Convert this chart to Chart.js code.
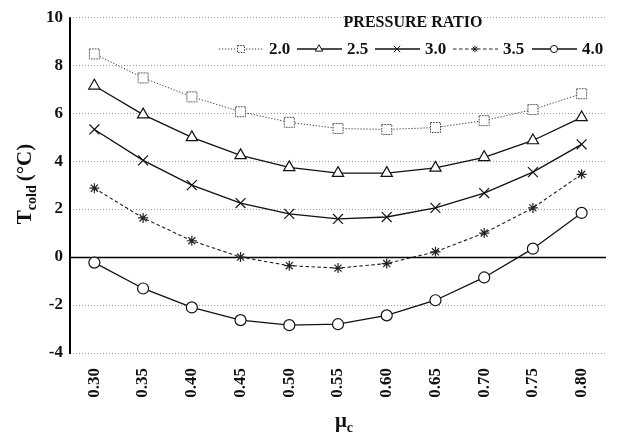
<!DOCTYPE html>
<html><head><meta charset="utf-8">
<script src="https://cdn.jsdelivr.net/npm/chart.js@4.4.1/dist/chart.umd.min.js"></script>
<style>html,body{margin:0;padding:0;background:#fff}#wrap{width:622px;height:436px}</style>
</head><body><div id="wrap"><canvas id="c" width="622" height="436"></canvas></div>
<script>
const categories = ['0.30','0.35','0.40','0.45','0.50','0.55','0.60','0.65','0.70','0.75','0.80'];
const seriesLabels = ['2.0','2.5','3.0','3.5','4.0'];
const pr20 = [8.47, 7.47, 6.68, 6.06, 5.62, 5.36, 5.32, 5.40, 5.69, 6.15, 6.81];
const pr25 = [7.14, 5.94, 4.99, 4.24, 3.74, 3.50, 3.50, 3.72, 4.16, 4.86, 5.82];
const pr30 = [5.32, 4.03, 3.00, 2.25, 1.80, 1.59, 1.67, 2.05, 2.67, 3.54, 4.70];
const pr35 = [2.87, 1.63, 0.68, 0.00, -0.36, -0.46, -0.27, 0.22, 1.00, 2.05, 3.45];
const pr40 = [-0.23, -1.31, -2.10, -2.63, -2.84, -2.80, -2.43, -1.80, -0.85, 0.35, 1.84];
const yTicks = [10, 8, 6, 4, 2, 0, -2, -4];

const FONT = "'Liberation Serif', 'Times New Roman', serif";

function dottedSquare(size) {
  const c = document.createElement('canvas');
  c.width = size + 2; c.height = size + 2;
  const g = c.getContext('2d');
  g.fillStyle = '#fff'; g.fillRect(1, 1, size, size);
  g.strokeStyle = '#333'; g.lineWidth = 1; g.setLineDash([1.5, 1.2]);
  g.strokeRect(1.5, 1.5, size - 1, size - 1);
  return c;
}
const sqBig = dottedSquare(11);
const sqSmall = dottedSquare(8);

const styles = [
  {data: pr20, pointStyle: sqBig, legendStyle: sqSmall, radius: 6, dash: [1.2, 1.8], width: 1, color: '#333'},
  {data: pr25, pointStyle: 'triangle', radius: 6.5, dash: [], width: 1.3, color: '#111'},
  {data: pr30, pointStyle: 'crossRot', radius: 7, dash: [], width: 1.3, color: '#111'},
  {data: pr35, pointStyle: 'star', radius: 5, dash: [3.5, 2.5], width: 1.1, color: '#222'},
  {data: pr40, pointStyle: 'circle', radius: 5.5, dash: [], width: 1.3, color: '#111'}
];

const datasets = styles.map((s, i) => ({
  label: seriesLabels[i],
  data: s.data,
  borderColor: s.color,
  borderWidth: s.width,
  borderDash: s.dash,
  pointStyle: s.pointStyle,
  pointRadius: s.radius,
  pointBorderWidth: 1.2,
  pointBorderColor: s.color,
  pointBackgroundColor: '#fff',
  tension: 0,
  fill: false
}));

const customPlugin = {
  id: 'custom',
  beforeDatasetsDraw(chart) {
    const {ctx, chartArea: a, scales: {y}} = chart;
    ctx.save();
    const y0 = Math.round(y.getPixelForValue(0)) + 0.5;
    ctx.strokeStyle = '#000'; ctx.lineWidth = 1.5; ctx.setLineDash([]);
    ctx.beginPath(); ctx.moveTo(a.left, y0); ctx.lineTo(a.right, y0); ctx.stroke();
    ctx.lineWidth = 2;
    ctx.beginPath(); ctx.moveTo(a.left, a.top); ctx.lineTo(a.left, a.bottom + 1); ctx.stroke();
    ctx.restore();
  },
  afterDraw(chart) {
    const {ctx} = chart;
    const big = 'bold 21px ' + FONT, small = 'bold 14px ' + FONT;
    ctx.save();
    ctx.fillStyle = '#111';
    ctx.translate(24, 184);
    ctx.rotate(-Math.PI / 2);
    ctx.font = big; const wT = ctx.measureText('T').width;
    ctx.font = small; const wC = ctx.measureText('cold').width;
    ctx.font = big; const wP = ctx.measureText('(°C)').width;
    const tot = wT + wC + 4 + wP;
    let x = -tot / 2;
    ctx.textBaseline = 'alphabetic'; ctx.textAlign = 'left';
    ctx.font = big; ctx.fillText('T', x, 7); x += wT;
    ctx.font = small; ctx.fillText('cold', x, 12); x += wC + 4;
    ctx.font = big; ctx.fillText('(°C)', x, 7);
    ctx.restore();

    ctx.save();
    ctx.fillStyle = '#111';
    ctx.font = big; const wM = ctx.measureText('μ').width;
    ctx.font = small; const wc = ctx.measureText('c').width;
    let xx = 344 - (wM + wc) / 2;
    ctx.font = big; ctx.fillText('μ', xx, 427);
    ctx.font = small; ctx.fillText('c', xx + wM, 432);
    ctx.restore();

    // Legend
    ctx.save();
    ctx.fillStyle = '#111';
    ctx.font = 'bold 16px ' + FONT;
    ctx.textAlign = 'center'; ctx.textBaseline = 'middle';
    ctx.fillText('PRESSURE RATIO', 413, 23);
    ctx.font = 'bold 17px ' + FONT;
    ctx.textAlign = 'left';
    const ly = 49;
    const starts = [219, 297, 375, 453, 532];
    chart.data.datasets.forEach((ds, i) => {
      const st = styles[i];
      const lx = starts[i];
      ctx.strokeStyle = st.color; ctx.lineWidth = st.width;
      ctx.setLineDash(st.dash);
      ctx.beginPath(); ctx.moveTo(lx, ly); ctx.lineTo(lx + 45, ly); ctx.stroke();
      ctx.setLineDash([]);
      ctx.fillStyle = '#fff'; ctx.strokeStyle = st.color; ctx.lineWidth = 1;
      Chart.helpers.drawPoint(ctx, {pointStyle: st.legendStyle || st.pointStyle, radius: st.radius * 0.65, rotation: 0, borderWidth: 1}, lx + 22, ly);
      ctx.fillStyle = '#111';
      ctx.fillText(ds.label, lx + 50, ly + 1);
    });
    ctx.restore();
  }
};

new Chart(document.getElementById('c'), {
  type: 'line',
  data: {labels: categories, datasets},
  options: {
    responsive: false,
    animation: false,
    devicePixelRatio: 1,
    layout: {padding: {top: 0, right: 16, left: 0, bottom: 0}},
    plugins: {legend: {display: false}, tooltip: {enabled: false}},
    scales: {
      x: {
        type: 'category',
        offset: true,
        grid: {display: false, drawTicks: false},
        border: {display: false},
        afterFit(s) { s.height = 83; },
        ticks: {
          minRotation: 90, maxRotation: 90, padding: 15,
          color: '#111', font: {family: FONT, size: 17, weight: 'bold'}
        }
      },
      y: {
        min: -4, max: 10,
        afterFit(s) { s.width = 70; },
        afterBuildTicks(s) { s.ticks = yTicks.map(v => ({value: v})); },
        grid: {color: '#9a9a9a', lineWidth: 1, drawTicks: false},
        border: {display: false, dash: [1, 2]},
        ticks: {
          padding: 7, color: '#111',
          font: {family: FONT, size: 17, weight: 'bold'}
        }
      }
    }
  },
  plugins: [customPlugin]
});
</script>
</body></html>
